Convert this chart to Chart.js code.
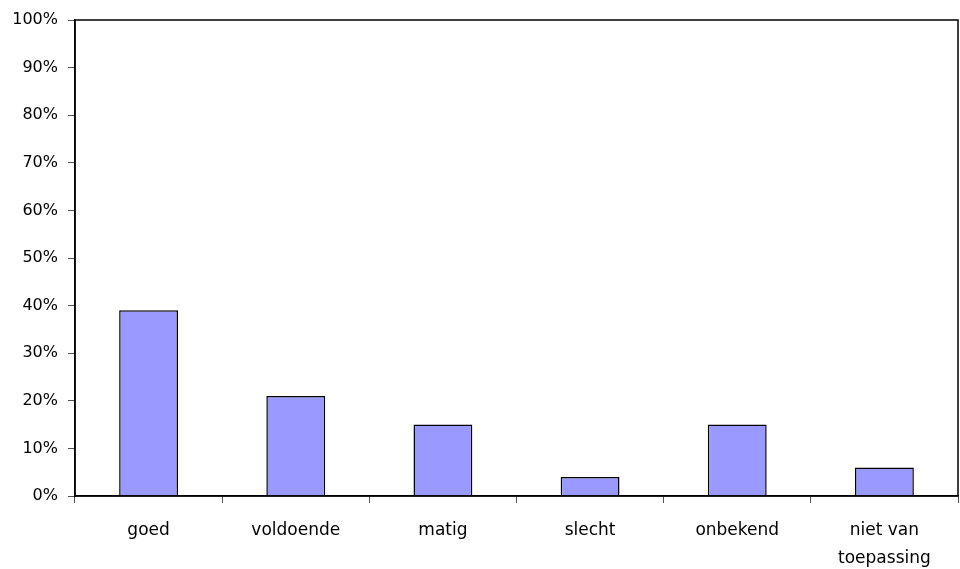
<!DOCTYPE html>
<html>
<head>
<meta charset="utf-8">
<script src="https://cdn.jsdelivr.net/npm/chart.js@4/dist/chart.umd.min.js"></script>
<style>
  html, body { margin: 0; padding: 0; background: #fff; }
  #wrap { width: 960px; height: 569px; }
</style>
</head>
<body>
<div id="wrap"><canvas id="chart" width="960" height="569"></canvas></div>
<script>
const categories = ["goed", "voldoende", "matig", "slecht", "onbekend", ["niet van", "toepassing"]];
const values = [39, 21, 15, 4, 15, 6];
const yTicks = [0, 10, 20, 30, 40, 50, 60, 70, 80, 90, 100];

// draws the box around the plot area
const frame = {
  id: "frame",
  afterDraw(chart) {
    const { ctx, chartArea: a } = chart;
    ctx.save();
    ctx.strokeStyle = "#000";
    ctx.lineWidth = 1.5;
    ctx.strokeRect(a.left, a.top, a.right - a.left, a.bottom - a.top);
    ctx.restore();
  }
};

new Chart(document.getElementById("chart").getContext("2d"), {
  type: "bar",
  data: {
    labels: categories,
    datasets: [{
      data: values,
      backgroundColor: "#9999ff",
      borderColor: "#000",
      borderWidth: 1.5,
      categoryPercentage: 1,
      barPercentage: 0.4
    }]
  },
  options: {
    responsive: false,
    animation: false,
    layout: { padding: { top: 20, right: 2 } },
    plugins: { legend: { display: false }, tooltip: { enabled: false } },
    scales: {
      x: {
        border: { color: "#000", width: 1.5 },
        grid: { drawOnChartArea: false, color: "#555", tickLength: 7, offset: true },
        ticks: { color: "#000", font: { family: "DejaVu Sans", size: 17, lineHeight: 1.65 }, padding: 14, maxRotation: 0 },
        afterFit(s) { s.height = 73; }
      },
      y: {
        min: 0,
        max: 100,
        afterBuildTicks(s) { s.ticks = yTicks.map(v => ({ value: v })); },
        border: { color: "#000", width: 1.5 },
        grid: { drawOnChartArea: false, color: "#555", tickLength: 7 },
        ticks: { color: "#000", font: { family: "DejaVu Sans", size: 16 }, padding: 10, callback: v => v + "%" },
        afterFit(s) { s.width = 75; }
      }
    }
  },
  plugins: [frame]
});
</script>
</body>
</html>
